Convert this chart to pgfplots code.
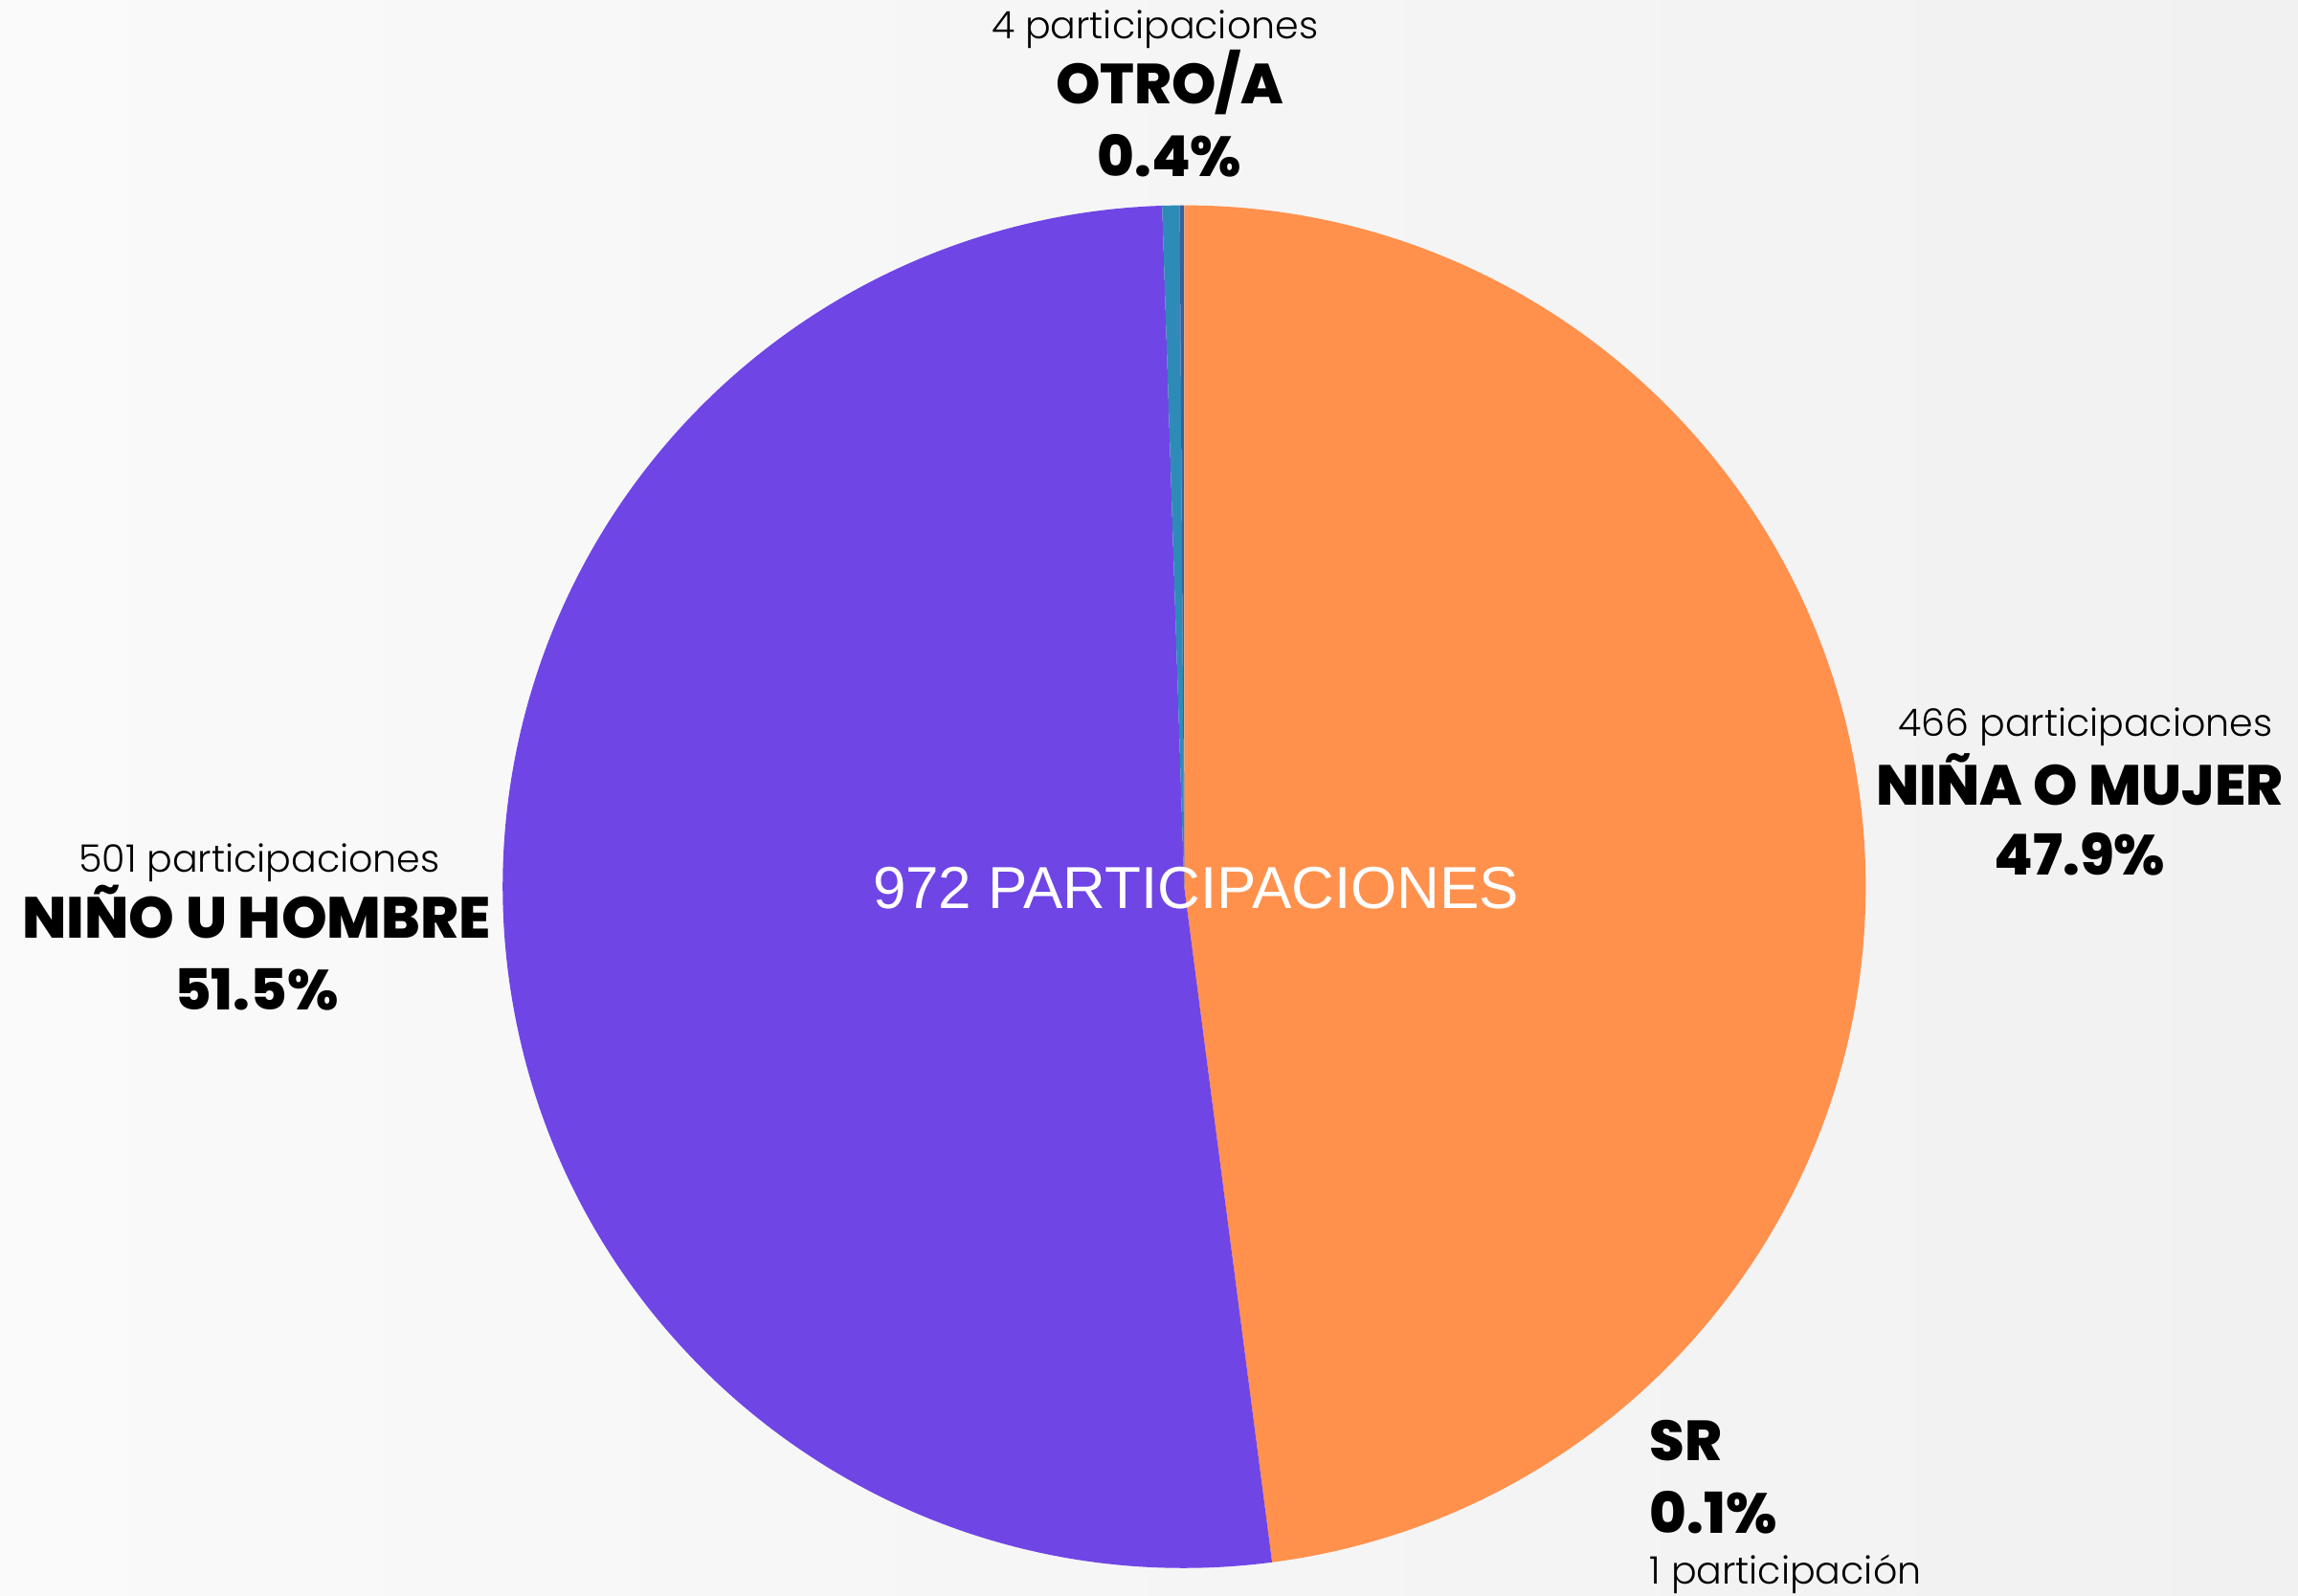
\documentclass[border=0pt]{standalone}
\usepackage{pgfplots}
\usepackage{pgfplotstable}
\pgfplotsset{compat=1.18}
\usepackage{fontspec}
\setmainfont{Poppins}
\newfontfamily\plight{Poppins Light}
\newfontfamily\pbold{Poppins ExtraBold}
\newfontfamily\pcenter{Liberation Sans}
\definecolor{cNM}{HTML}{FF914D}
\definecolor{cNH}{HTML}{6F45E5}
\definecolor{cOT}{HTML}{2E8BB8}
\definecolor{cSR}{HTML}{3B5E9A}
\definecolor{bgL}{HTML}{FAFAFA}
\definecolor{bgR}{HTML}{F1F1F1}

% counts, clockwise from the top
\pgfplotstableread{
label count
NM 466
NH 501
OT 4
SR 1
}\pietable

\begin{document}
\begin{tikzpicture}
% angles from the counts
\pgfplotstablegetelem{0}{count}\of\pietable \let\cNMv\pgfplotsretval
\pgfplotstablegetelem{1}{count}\of\pietable \let\cNHv\pgfplotsretval
\pgfplotstablegetelem{2}{count}\of\pietable \let\cOTv\pgfplotsretval
\pgfplotstablegetelem{3}{count}\of\pietable \let\cSRv\pgfplotsretval
\pgfmathsetmacro\tot{\cNMv+\cNHv+\cOTv+\cSRv}
\pgfmathsetmacro\aA{90}
\pgfmathsetmacro\aB{\aA-360*(\cNMv/\tot)}
\pgfmathsetmacro\aC{\aB-360*(\cNHv/\tot)}
\pgfmathsetmacro\aD{\aC-360*(\cOTv/\tot)}
\pgfmathsetmacro\aE{\aD-360*(\cSRv/\tot)}
\def\R{4.745cm}
\begin{axis}[width=16cm, height=11.115cm, scale only axis, hide axis, clip=false,
  xmin=0, xmax=1568, ymin=0, ymax=1089, y dir=reverse]
  \fill[left color=bgL, right color=bgR] (axis cs:0,0) rectangle (axis cs:1568,1089);
  \fill[cNM] (axis cs:808,605) -- ++(\aA:\R) arc[start angle=\aA, end angle=\aB, radius=\R] -- cycle;
  \fill[cNH] (axis cs:808,605) -- ++(\aB:\R) arc[start angle=\aB, end angle=\aC, radius=\R] -- cycle;
  \fill[cOT] (axis cs:808,605) -- ++(\aC:\R) arc[start angle=\aC, end angle=\aD, radius=\R] -- cycle;
  \fill[cSR] (axis cs:808,605) -- ++(\aD:\R) arc[start angle=\aD, end angle=\aE, radius=\R] -- cycle;

  \node[text=white, font=\pcenter\fontsize{11.75}{13}\selectfont] at (axis cs:816,606) {972 PARTICIPACIONES};

  \node[font=\plight\fontsize{7.5}{8}\selectfont] at (axis cs:788,20) {4 participaciones};
  \node[font=\pbold\fontsize{11.2}{12}\selectfont] at (axis cs:798,56) {OTRO/A};
  \node[font=\pbold\fontsize{11.2}{12}\selectfont] at (axis cs:798,106) {0.4\%};

  \node[font=\plight\fontsize{7.5}{8}\selectfont] at (axis cs:1423,496) {466 participaciones};
  \node[font=\pbold\fontsize{11.2}{12}\selectfont] at (axis cs:1419,532) {NIÑA O MUJER};
  \node[font=\pbold\fontsize{11.2}{12}\selectfont] at (axis cs:1419,583) {47.9\%};

  \node[font=\plight\fontsize{7.5}{8}\selectfont] at (axis cs:177,589) {501 participaciones};
  \node[font=\pbold\fontsize{11.5}{12}\selectfont] at (axis cs:175,622) {NIÑO U HOMBRE};
  \node[font=\pbold\fontsize{11.2}{12}\selectfont] at (axis cs:175,675) {51.5\%};

  \node[anchor=west, inner sep=0pt, font=\pbold\fontsize{11.2}{12}\selectfont] at (axis cs:1125,983) {SR};
  \node[anchor=west, inner sep=0pt, font=\pbold\fontsize{11.2}{12}\selectfont] at (axis cs:1125,1032) {0.1\%};
  \node[anchor=west, inner sep=0pt, font=\plight\fontsize{7.5}{8}\selectfont] at (axis cs:1125,1074) {1 participación};
\end{axis}
\pgfresetboundingbox
\path (current axis.south west) rectangle (current axis.north east);
\end{tikzpicture}
\end{document}
